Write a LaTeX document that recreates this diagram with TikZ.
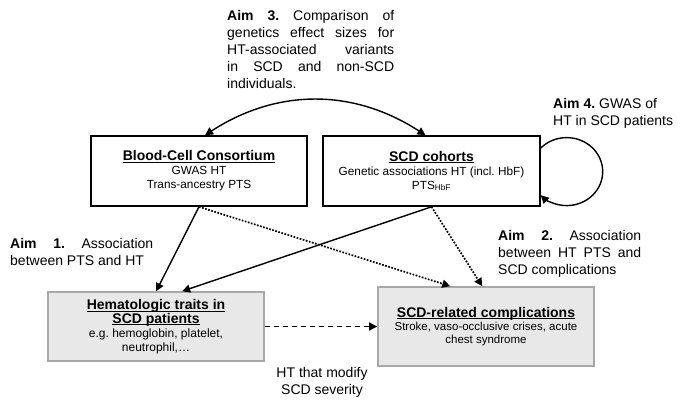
\documentclass[tikz,border=0pt]{standalone}
\usepackage{fontspec}
\setmainfont{Liberation Sans}
\usetikzlibrary{arrows.meta}
\definecolor{boxgray}{HTML}{E8E8E8}
\definecolor{edgegray}{HTML}{A8A8A8}
\frenchspacing
\newcommand{\boxtitle}[1]{{\fontsize{14}{17}\selectfont\bfseries
    \setbox0\hbox{#1}\rlap{\rule[-2pt]{\wd0}{0.9pt}}\box0}}
\newcommand{\spreadline}[2]{\makebox[#1][s]{#2}}

\begin{document}
\begin{tikzpicture}[x = 1pt, y = 1pt,
    >={Triangle[length=8pt,width=8pt]},
    topbox/.style = {draw, line width = 1.6pt, minimum width = 216pt, minimum height = 70pt,
        align = center, inner sep = 0pt, font = \fontsize{11.8}{14}\selectfont},
    lowbox/.style = {draw = edgegray, fill = boxgray, line width = 1.6pt, minimum width = 216pt,
        align = center, inner sep = 0pt},
    aimtext/.style = {font = \fontsize{14}{17}\selectfont, inner sep = 0pt, align = left, anchor = north west},
    link/.style = {->, line width = 1.4pt},
    dotlink/.style = {link, line width = 1.7pt, dash pattern = on 1.7pt off 1.5pt}]
    \useasboundingbox (0, 0) rectangle (682, 408);

    % the four boxes
    \node [topbox] (bcc) at (199, 237) {\boxtitle{Blood-Cell Consortium}\\ GWAS HT\\ Trans-ancestry PTS};
    \node [topbox, minimum width = 217pt] (scd) at (431.5, 237) {\boxtitle{SCD cohorts}\\ Genetic associations HT (incl. HbF)\\ PTS\textsubscript{HbF}};
    \node [lowbox, minimum height = 69pt, font = \fontsize{12}{13.5}\selectfont] (hem) at (156, 81.5)
        {\boxtitle{Hematologic traits in}\\ \boxtitle{SCD patients}\\[1pt] e.g. hemoglobin, platelet,\\ neutrophil,…};
    \node [lowbox, minimum height = 79pt, font = \fontsize{11.5}{13}\selectfont] (comp) at (486, 81.5)
        {\boxtitle{SCD-related complications}\\ Stroke, vaso-occlusive crises, acute\\ chest syndrome};

    % aims
    \node [aimtext] (aim3) at (227, 398) {\spreadline{167pt}{\textbf{Aim 3.} Comparison of}\\
        \spreadline{167pt}{genetics effect sizes for}\\ \spreadline{167pt}{HT-associated variants}\\
        \spreadline{167pt}{in SCD and non-SCD}\\ individuals.};
    \node [aimtext] (aim4) at (553, 310) {\textbf{Aim 4.} GWAS of\\ HT in SCD patients};
    \node [aimtext] (aim1) at (10, 170) {\spreadline{143pt}{\textbf{Aim 1.} Association}\\ between PTS and HT};
    \node [aimtext] (aim2) at (498, 178) {\spreadline{143pt}{\textbf{Aim 2.} Association}\\
        \spreadline{143pt}{between HT PTS and}\\ SCD complications};
    \node [font = \fontsize{14}{17}\selectfont, align = center, inner sep = 0pt] (modtxt) at (322, 26) {HT that modify\\ SCD severity};

    % connectors
    \draw [link, <->] ([xshift = 6pt]bcc.north) to [bend left = 33] ([xshift = -6pt]scd.north);
    \draw [link] ([yshift = 23pt]scd.east) arc [start angle = 136, end angle = -136, x radius = 36pt, y radius = 34pt];
    \draw [link] (bcc.south) -- ([xshift = 109pt]hem.north west);
    \draw [link] (scd.south) -- ([xshift = 135pt]hem.north west);
    \draw [dotlink] (bcc.south) -- ([xshift = 73pt]comp.north west);
    \draw [dotlink] (scd.south) -- ([xshift = 105pt]comp.north west);
    \draw [link, dash pattern = on 5pt off 4pt] (hem) -- (comp);
\end{tikzpicture}
\end{document}
